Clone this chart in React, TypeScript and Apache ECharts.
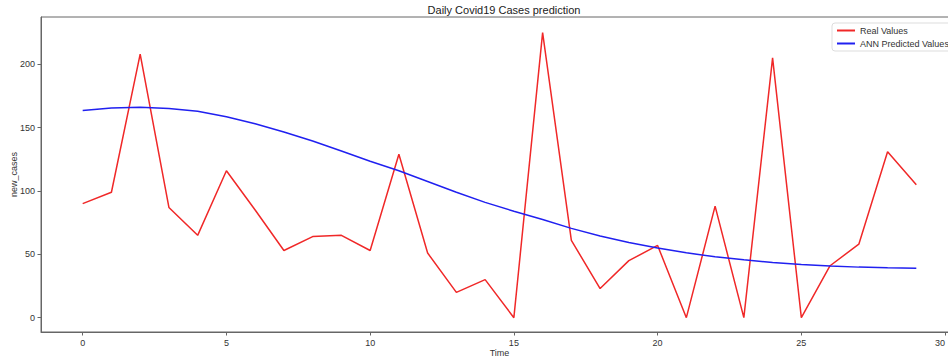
import React, { useEffect, useRef } from "react";
import * as echarts from "echarts";

const timeSteps = [0,1,2,3,4,5,6,7,8,9,10,11,12,13,14,15,16,17,18,19,20,21,22,23,24,25,26,27,28,29];
const realValues = [90,99,208,87,65,116,85,53,64,65,53,129,51,20,30,0,225,61,23,45,57,0,88,0,205,0,41,58,131,105];
const predictedValues = [163.5,165.5,166,165,163,158.5,153,146.5,139.5,131.5,123.5,116,107.5,99,91,84,77.5,70.5,64.5,59.3,55,51.2,48,45.7,43.6,42,40.7,39.9,39.4,39.1];
const xTicks = [0,5,10,15,20,25,30];
const yTicks = [0,50,100,150,200];

const FONT = "Liberation Sans";

export default function App() {
  const ref = useRef<HTMLDivElement>(null);
  useEffect(() => {
    if (!ref.current) return;
    const chart = echarts.init(ref.current, null, { renderer: "svg" });
    const axisColor = "#666";
    chart.setOption({
      animation: false,
      backgroundColor: "#fff",
      title: {
        text: "Daily Covid19 Cases prediction",
        left: 499,
        top: -1,
        textAlign: "center",
        textStyle: { fontFamily: FONT, fontSize: 11, fontWeight: "normal", color: "#222" },
      },
      legend: {
        orient: "vertical",
        left: 832,
        top: 23,
        itemWidth: 18,
        itemHeight: 2,
        itemGap: 2,
        icon: "rect",
        backgroundColor: "#fff",
        borderColor: "#ddd",
        borderWidth: 1,
        borderRadius: 3,
        padding: [2, 5, 2, 5],
        textStyle: { fontFamily: FONT, fontSize: 9, color: "#333", lineHeight: 11 },
        data: ["Real Values", "ANN Predicted Values"],
      },
      grid: {
        left: 41,
        top: 17,
        width: 917,
        bottom: 28,
        outerBoundsMode: "none",
        containLabel: false,
        show: true,
        borderColor: axisColor,
        borderWidth: 1,
        backgroundColor: "transparent",
      },
      xAxis: {
        type: "value",
        min: -1.45,
        max: 30.45,
        name: "Time",
        nameLocation: "middle",
        nameGap: 16,
        nameMoveOverlap: false,
        nameTextStyle: { fontFamily: FONT, fontSize: 9, color: "#333" },
        axisLine: { show: true, onZero: false, lineStyle: { color: axisColor } },
        axisTick: { show: true, customValues: xTicks, length: 3.5, lineStyle: { color: axisColor } },
        axisLabel: {
          customValues: xTicks,
          fontFamily: FONT,
          fontSize: 9,
          color: "#333",
          margin: 6,
          alignMaxLabel: "right",
        },
        splitLine: { show: false },
      },
      yAxis: {
        type: "value",
        min: -11.3,
        max: 237.3,
        name: "new_cases",
        nameLocation: "middle",
        nameGap: 23,
        nameMoveOverlap: false,
        nameTextStyle: { fontFamily: FONT, fontSize: 9, color: "#333" },
        axisLine: { show: true, onZero: false, lineStyle: { color: axisColor } },
        axisTick: { show: true, customValues: yTicks, length: 3.5, lineStyle: { color: axisColor } },
        axisLabel: { customValues: yTicks, fontFamily: FONT, fontSize: 9, color: "#333", margin: 6 },
        splitLine: { show: false },
      },
      series: [
        {
          name: "Real Values",
          type: "line",
          data: timeSteps.map((t, i) => [t, realValues[i]]),
          showSymbol: false,
          symbol: "none",
          lineStyle: { color: "#f02828", width: 1.5 },
          itemStyle: { color: "#f02828" },
        },
        {
          name: "ANN Predicted Values",
          type: "line",
          data: timeSteps.map((t, i) => [t, predictedValues[i]]),
          showSymbol: false,
          symbol: "none",
          lineStyle: { color: "#2020f0", width: 1.5 },
          itemStyle: { color: "#2020f0" },
        },
      ],
    });
    return () => chart.dispose();
  }, []);
  return (
    <div
      ref={ref}
      style={{ position: "fixed", left: 0, top: 0, width: 948, height: 360, background: "#fff" }}
    />
  );
}
